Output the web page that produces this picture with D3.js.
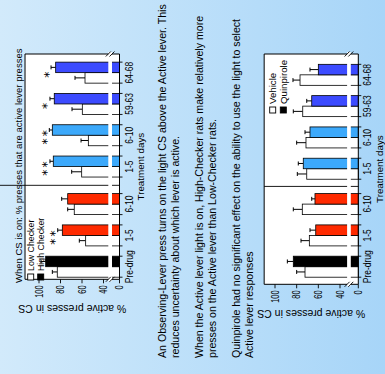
<!DOCTYPE html>
<html>
<head>
<meta charset="utf-8">
<script src="https://cdn.jsdelivr.net/npm/d3@7/dist/d3.min.js"></script>
<style>
  body { margin: 0; background: #fff; }
  svg { display: block; font-family: "Liberation Sans", Arial, sans-serif; }
</style>
</head>
<body>
<script>
// treatment-day groups, shared by both panels
const categories = ["Pre-drug", "1-5", "6-10", "1-5", "6-10", "59-63", "64-68"];
const phases = ["pre", "drug", "drug", "early", "early", "late", "late"];
const yTicks = [0, 40, 60, 80, 100];

// top panel: Low vs High Checkers
const lowChecker = [83.0, 56.6, 67.2, 60.3, 54.1, 59.7, 57.2];
const lowCheckerErr = [4.6, 5.9, 6.1, 9.3, 6.8, 9.6, 9.3];
const highChecker = [93.8, 78.3, 73.3, 86.7, 87.6, 85.8, 84.5];
const highCheckerErr = [4.3, 4.3, 5.6, 3.1, 2.8, 4.0, 4.3];
const checkerStars = ["", "**", "", "**", "**", "*", "*"];

// bottom panel: Vehicle vs Quinpirole
const vehicle = [72.3, 68.3, 74.8, 70.7, 71.4, 74.4, 76.9];
const vehicleErr = [7.7, 7.7, 8.3, 8.7, 8.6, 8.7, 6.5];
const quinpirole = [83.1, 62.4, 63.1, 73.9, 67.7, 66.1, 60.0];
const quinpiroleErr = [5.5, 5.3, 3.0, 4.6, 4.6, 4.6, 7.7];

const titleText = "When CS is on: % presses that are active lever presses";
const paragraphs = [
  ["An Observing-Lever press turns on the light CS above the Active lever. This",
   "reduces uncertainty about which lever is active."],
  ["When the Active lever light is on, High-Checker rats make relatively more",
   "presses on the Active lever than Low-Checker rats."],
  ["Quinpirole had no significant effect on the ability to use the light to select",
   "Active lever responses"]
];

const phaseColor = { pre: "#000000", drug: "#ff2a00", early: "#3ca9fb", late: "#3c4bff" };
const isPost = p => p === "early" || p === "late";

// the slide is shown turned a quarter turn, so draw upright and rotate
const W = 374, H = 385;
const svg = d3.select("body").append("svg").attr("width", 385).attr("height", 374);

const grad = svg.append("defs").append("linearGradient")
  .attr("id", "bg").attr("x1", 0).attr("y1", 0).attr("x2", 0).attr("y2", 1);
grad.append("stop").attr("offset", 0).attr("stop-color", "#d2eafb");
grad.append("stop").attr("offset", 1).attr("stop-color", "#a7d5f8");

const root = svg.append("g").attr("transform", "translate(0,374) rotate(-90)");
root.append("rect").attr("width", W).attr("height", H).attr("fill", "url(#bg)");

function label(parent, str, x, y, size, anchor, sx) {
  return parent.append("text")
    .attr("transform", "translate(" + x + "," + y + ") scale(" + (sx || 1) + ",1)")
    .attr("text-anchor", anchor || "start")
    .attr("font-size", size)
    .attr("fill", "#000")
    .text(str);
}

label(root, titleText, 91, 21.5, 9.5);

paragraphs.forEach(function (lines, p) {
  lines.forEach(function (line, l) {
    label(root, line, 16, 165.5 + p * 37 + l * 13.5, 10.6);
  });
});

function drawChart(o) {
  const g = root.append("g");
  const bw = 10.5;
  const x = d3.scaleLinear().domain([0, 1]).range([107.3, 138.6]);
  const slot = i => i + (isPost(phases[i]) ? o.gap : 0);
  const y = d3.scaleLinear().domain([0, 40, 100]).range([o.base, o.y40, o.y100]);
  const left = o.left, right = 320, top = y(o.maxV);

  g.append("rect").attr("x", left).attr("y", top)
    .attr("width", right - left).attr("height", o.base - top).attr("fill", "#fff");

  // drug / post-drug divider
  const sepX = x(2.5 + o.gap / 2);
  g.append("line").attr("x1", sepX).attr("x2", sepX)
    .attr("y1", o.sepTop === undefined ? top : o.sepTop).attr("y2", o.base)
    .attr("stroke", "#000").attr("stroke-width", 0.9);

  const series = [
    { vals: o.a, err: o.aErr, off: -bw, fill: () => "#fff" },
    { vals: o.b, err: o.bErr, off: 0, fill: i => phaseColor[phases[i]] }
  ];

  series.forEach(function (s) {
    const grp = g.append("g");
    grp.selectAll("line.err").data(s.vals).enter().append("line")
      .attr("x1", (d, i) => x(slot(i)) + s.off + bw / 2)
      .attr("x2", (d, i) => x(slot(i)) + s.off + bw / 2)
      .attr("y1", d => y(d))
      .attr("y2", (d, i) => y(d + s.err[i]))
      .attr("stroke", "#000").attr("stroke-width", 1);
    grp.selectAll("line.cap").data(s.vals).enter().append("line")
      .attr("x1", (d, i) => x(slot(i)) + s.off + bw / 2 - 2)
      .attr("x2", (d, i) => x(slot(i)) + s.off + bw / 2 + 2)
      .attr("y1", (d, i) => y(d + s.err[i]))
      .attr("y2", (d, i) => y(d + s.err[i]))
      .attr("stroke", "#000").attr("stroke-width", 1);
    grp.selectAll("rect").data(s.vals).enter().append("rect")
      .attr("x", (d, i) => x(slot(i)) + s.off)
      .attr("y", d => y(d))
      .attr("width", bw)
      .attr("height", d => o.base - y(d))
      .attr("fill", (d, i) => s.fill(i))
      .attr("stroke", "#000").attr("stroke-width", 0.8);
  });

  // frame
  g.append("path")
    .attr("d", "M" + left + "," + o.base + "V" + top + "H" + right + "V" + o.base)
    .attr("fill", "none").attr("stroke", "#000").attr("stroke-width", 1);

  // axis break
  const gTop = o.base - 11.2, gBot = o.base - 7.5;
  g.append("rect").attr("x", left - 2).attr("y", gTop)
    .attr("width", right - left + 4).attr("height", gBot - gTop).attr("fill", "#fff");
  [left, right].forEach(function (cx) {
    [gTop, gBot].forEach(function (cy) {
      g.append("line")
        .attr("x1", cx - 2.5).attr("y1", cy - 2.5)
        .attr("x2", cx + 2.5).attr("y2", cy + 2.5)
        .attr("stroke", "#000").attr("stroke-width", 0.9);
    });
  });

  // category axis
  g.append("line").attr("x1", left).attr("x2", right)
    .attr("y1", o.base).attr("y2", o.base)
    .attr("stroke", "#000").attr("stroke-width", 1);
  categories.forEach(function (c, i) {
    [-bw, bw].forEach(function (dx) {
      g.append("line")
        .attr("x1", x(slot(i)) + dx).attr("x2", x(slot(i)) + dx)
        .attr("y1", o.base).attr("y2", o.base + 3)
        .attr("stroke", "#000").attr("stroke-width", 0.9);
    });
    label(g, c, x(slot(i)), o.labelY, 10, "middle", 0.85);
  });
  label(g, "Treatment days", (left + right) / 2, o.titleY, 9.8, "middle");

  // value axis
  yTicks.forEach(function (t) {
    g.append("line").attr("x1", left - 4).attr("x2", left)
      .attr("y1", y(t)).attr("y2", y(t))
      .attr("stroke", "#000").attr("stroke-width", 0.9);
    label(g, String(t), left - 6, y(t), 10, "end", 0.75).attr("dy", "0.36em");
  });
  g.append("text")
    .attr("transform", "translate(" + o.yTitleX + "," + (top + o.base) / 2 + ") rotate(-90)")
    .attr("text-anchor", "middle").attr("font-size", 10.5)
    .text("% active presses in CS");

  // significance marks
  if (o.stars) {
    o.stars.forEach(function (s, i) {
      if (!s) return;
      const tip = Math.max(o.a[i] + o.aErr[i], o.b[i] + o.bErr[i]);
      label(g, s, x(slot(i)) - 1, y(tip) + 1.5, 12.5, "middle")
        .attr("font-family", "DejaVu Sans")
        .attr("letter-spacing", 2);
    });
  }

  // legend
  o.legend.forEach(function (name, k) {
    const ly = o.legendY + k * o.legendStep;
    g.append("rect").attr("x", o.legendX - 3).attr("y", ly - 3)
      .attr("width", 6).attr("height", 6)
      .attr("fill", k === 0 ? "#fff" : "#000")
      .attr("stroke", "#000").attr("stroke-width", 0.9);
    label(g, name, o.legendX + 6, ly + 3.3, o.legendSize);
  });
}

drawChart({
  a: lowChecker, aErr: lowCheckerErr, b: highChecker, bErr: highCheckerErr,
  stars: checkerStars,
  base: 119.5, y40: 103.5, y100: 39, maxV: 113, left: 94.7, gap: 0.2, sepTop: 0,
  labelY: 132.5, titleY: 143.5, yTitleX: 69,
  legend: ["Low Checker", "High Checker"], legendX: 97, legendY: 30.7, legendStep: 10, legendSize: 8.8
});

drawChart({
  a: vehicle, aErr: vehicleErr, b: quinpirole, bErr: quinpiroleErr,
  base: 358.3, y40: 340, y100: 275, maxV: 110, left: 89.7, gap: 0.13,
  labelY: 371, titleY: 382.5, yTitleX: 64,
  legend: ["Vehicle", "Quinpirole"], legendX: 264, legendY: 272.7, legendStep: 10.6, legendSize: 9.7
});
</script>
</body>
</html>
